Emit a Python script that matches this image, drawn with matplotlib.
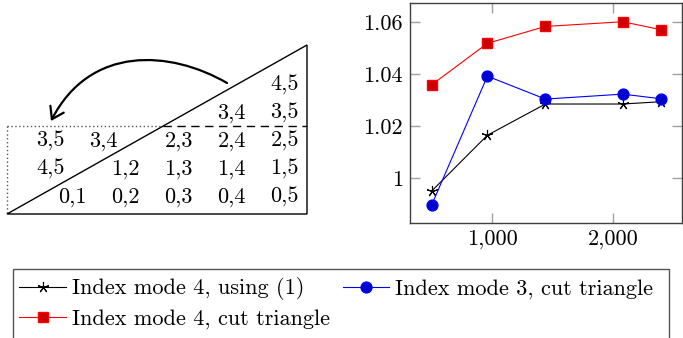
import matplotlib
matplotlib.use("Agg")
import matplotlib.pyplot as plt
from matplotlib.patches import Polygon, Rectangle, FancyArrowPatch
from matplotlib.path import Path
from matplotlib.ticker import FuncFormatter

plt.rcParams['font.family'] = 'cmr10'
plt.rcParams['mathtext.fontset'] = 'cm'
plt.rcParams['axes.formatter.use_mathtext'] = True

# series data
sizes = [500, 960, 1440, 2080, 2400]
mode4_formula = [0.9951, 1.0165, 1.0285, 1.0285, 1.0294]
mode3_cut = [0.9898, 1.0392, 1.0304, 1.0323, 1.0305]
mode4_cut = [1.0359, 1.0518, 1.0583, 1.0601, 1.0570]

labels = ["Index mode 4, using (1)",
          "Index mode 3, cut triangle",
          "Index mode 4, cut triangle"]

# triangle diagram: index pairs per row, right-aligned to the last column
kept_rows = [["0,1", "0,2", "0,3", "0,4", "0,5"],
             ["1,2", "1,3", "1,4", "1,5"],
             ["2,3", "2,4", "2,5"],
             ["3,4", "3,5"],
             ["4,5"]]
# pieces cut off the top and moved into the empty lower-left corner
moved_rows = {2: ["3,5", "3,4"], 1: ["4,5"]}

FS = 16
W, H = 683, 338

fig = plt.figure(figsize=(W / 100, H / 100), dpi=100)

# overlay in pixel coordinates for the diagram and the legend frame
ov = fig.add_axes([0, 0, 1, 1])
ov.set_xlim(0, W)
ov.set_ylim(H, 0)
ov.axis('off')

x0, x1, ytop, ybot = 7, 307, 45, 214
col_w, row_h = 53, 28
right0, base0 = 87, 202.5

ov.add_patch(Polygon([(x0, ybot), (x1, ytop), (x1, ybot)], closed=True,
                     fill=False, ec='black', lw=1.0))
cut_y = 126
cut_x = x0 + (ybot - cut_y) * (x1 - x0) / (ybot - ytop)
ov.plot([cut_x, x1], [cut_y, cut_y], color='black', lw=1.0, ls=(0, (6, 4)))
ov.plot([x0, cut_x], [cut_y, cut_y], color='#555555', lw=1.0, ls=(0, (1, 1.8)))
ov.plot([x0, x0], [cut_y, ybot], color='#555555', lw=1.0, ls=(0, (1, 1.8)))

ncol = len(kept_rows[0])
for r, row in enumerate(kept_rows):
    for k, lab in enumerate(row):
        c = ncol - len(row) + k
        ov.text(right0 + c * col_w, base0 - r * row_h, lab, fontsize=FS,
                ha='right', va='baseline')
for r, row in moved_rows.items():
    for c, lab in enumerate(row):
        ov.text(right0 - 22 + c * col_w, base0 - r * row_h, lab, fontsize=FS,
                ha='right', va='baseline')

arc = Path([(227, 83), (170, 50), (90, 45), (51, 121)],
           [Path.MOVETO, Path.CURVE4, Path.CURVE4, Path.CURVE4])
ov.add_patch(FancyArrowPatch(path=arc, arrowstyle='->,head_length=0.45,head_width=0.3',
                             mutation_scale=18, lw=1.6, color='black'))

ov.add_patch(Rectangle((13, 269), 656, 90, fill=False, ec='#555555', lw=1.0))

# line chart
ax = fig.add_axes([410 / W, 1 - 223 / H, 272 / W, 220 / H])
h1, = ax.plot(sizes, mode4_formula, color='black', lw=0.8, marker=(5, 2, 0),
              markersize=8, markeredgewidth=0.8)
h2, = ax.plot(sizes, mode3_cut, color='blue', lw=0.8, marker='o', markersize=7.8,
              markerfacecolor=(0, 0, 0.8), markeredgecolor='blue')
h3, = ax.plot(sizes, mode4_cut, color='red', lw=0.8, marker='s', markersize=7.5,
              markerfacecolor=(0.8, 0, 0), markeredgecolor='red')

ax.set_xlim(320, 2570)
ax.set_ylim(0.9828, 1.0673)
ax.set_xticks([1000, 2000])
ax.set_yticks([1.0, 1.02, 1.04, 1.06])
ax.xaxis.set_major_formatter(FuncFormatter(lambda v, p: f"{v:,.0f}"))
ax.yaxis.set_major_formatter(FuncFormatter(lambda v, p: f"{v:g}"))
ax.tick_params(direction='in', length=7.5, width=1.0, color='#a0a0a0',
               labelsize=FS, top=True, right=True, pad=5)
for s in ax.spines.values():
    s.set_color('#404040')
    s.set_linewidth(1.0)

fig.legend([h1, h3, h2], [labels[0], labels[2], labels[1]], ncol=2,
           loc='upper left', bbox_to_anchor=(15 / W, 1 - 273 / H),
           frameon=False, fontsize=FS, handlelength=2.1, handletextpad=0.28,
           columnspacing=0.55, labelspacing=0.38, borderpad=0.2,
           borderaxespad=0)

fig.savefig("out.png", dpi=100)
